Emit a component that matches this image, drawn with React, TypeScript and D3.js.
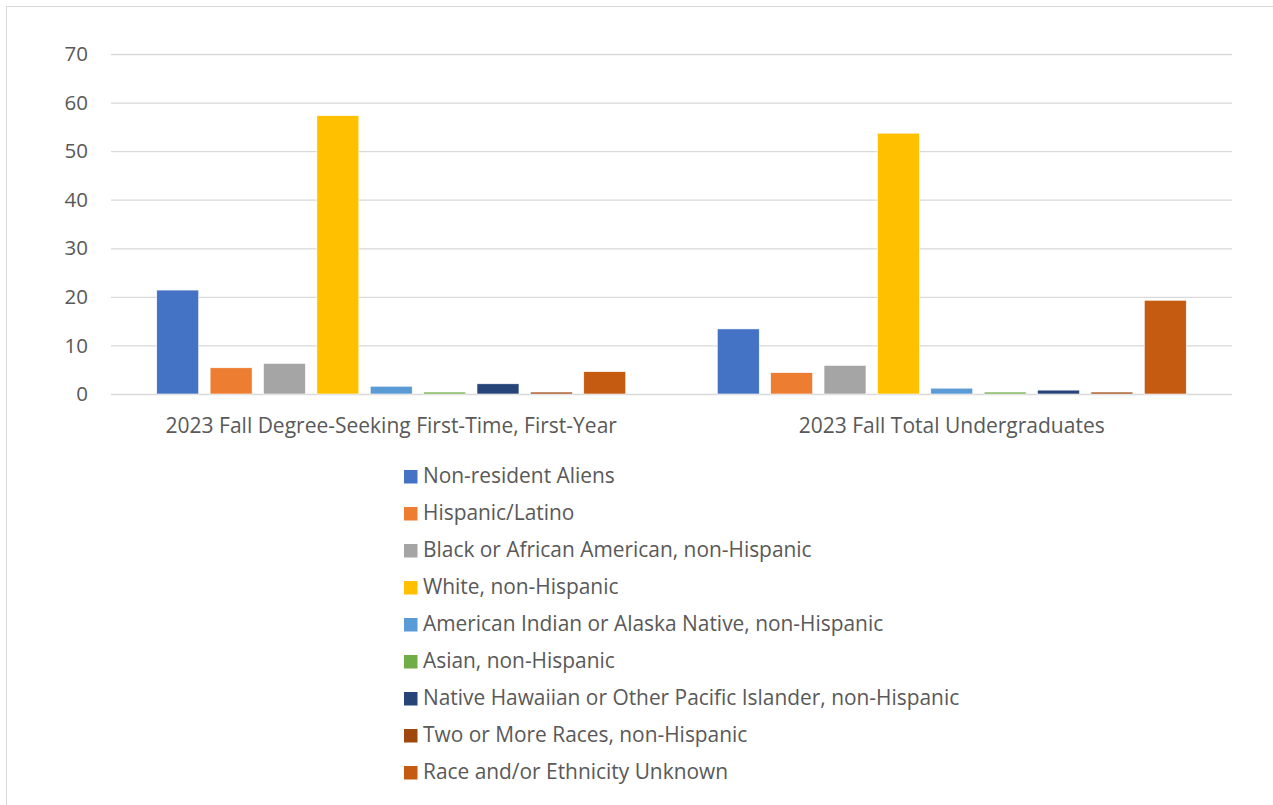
import React from "react";
import * as d3 from "d3";

const categories = [
  "2023 Fall Degree-Seeking First-Time, First-Year",
  "2023 Fall Total Undergraduates",
];
const seriesNames = [
  "Non-resident Aliens",
  "Hispanic/Latino",
  "Black or African American, non-Hispanic",
  "White, non-Hispanic",
  "American Indian or Alaska Native, non-Hispanic",
  "Asian, non-Hispanic",
  "Native Hawaiian or Other Pacific Islander, non-Hispanic",
  "Two or More Races, non-Hispanic",
  "Race and/or Ethnicity Unknown",
];
const firstYearValues = [21.4, 5.4, 6.3, 57.3, 1.6, 0.4, 2.1, 0.4, 4.6];
const totalUndergradValues = [13.4, 4.4, 5.9, 53.7, 1.2, 0.4, 0.8, 0.4, 19.3];
const seriesColors = [
  "#4472C4",
  "#ED7D31",
  "#A5A5A5",
  "#FFC000",
  "#5B9BD5",
  "#70AD47",
  "#264478",
  "#9E480E",
  "#C55A11",
];
const yTicks = [0, 10, 20, 30, 40, 50, 60, 70];

const W = 1273;
const H = 805;
const FONT = "'Open Sans', sans-serif";
const TEXT = "#595959";

export default function App() {
  const left = 111;
  const right = 1232;
  const top = 54;
  const bottom = 394;
  const values = [firstYearValues, totalUndergradValues];

  const y = d3.scaleLinear().domain([0, 70]).range([bottom, top]);
  const x0 = d3
    .scaleBand<string>()
    .domain(categories)
    .range([left, right])
    .paddingInner(0.1633)
    .paddingOuter(0.0816);
  const x1 = d3
    .scaleBand<number>()
    .domain(d3.range(seriesNames.length))
    .range([0, x0.bandwidth()])
    .paddingInner(0.2135)
    .paddingOuter(0);

  const legendX = 404;
  const legendY0 = 476;
  const legendStep = 37;

  return (
    <svg
      width={W}
      height={H}
      style={{ position: "absolute", left: 0, top: 0, background: "#fff" }}
      fontFamily={FONT}
    >
      <rect x={0} y={0} width={W} height={H} fill="#fff" />
      <rect
        x={6.5}
        y={6.5}
        width={W + 20}
        height={H + 20}
        fill="none"
        stroke="#d9d9d9"
        strokeWidth={1}
      />
      {yTicks.map((t) => (
        <g key={t}>
          <line
            x1={left}
            x2={right}
            y1={y(t) + 0.5}
            y2={y(t) + 0.5}
            stroke="#d9d9d9"
            strokeWidth={1.3}
          />
          <text
            x={88}
            y={y(t)}
            dy="0.35em"
            textAnchor="end"
            fontSize={20.5}
            fill={TEXT}
          >
            {t}
          </text>
        </g>
      ))}
      {categories.map((c, ci) => (
        <g key={c} transform={`translate(${x0(c)},0)`}>
          {values[ci].map((v, si) => (
            <rect
              key={si}
              x={x1(si)}
              y={y(v)}
              width={x1.bandwidth()}
              height={y(0) - y(v)}
              fill={seriesColors[si]}
              stroke="#fff"
              strokeWidth={0.6}
            />
          ))}
          <text
            x={x0.bandwidth() / 2}
            y={426}
            dy="0.35em"
            textAnchor="middle"
            fontSize={21}
            fill={TEXT}
          >
            {c}
          </text>
        </g>
      ))}
      {seriesNames.map((s, i) => (
        <g key={s} transform={`translate(${legendX},${legendY0 + i * legendStep})`}>
          <rect x={0} y={-6} width={13.5} height={13.5} fill={seriesColors[i]} />
          <text x={19} y={0} dy="0.35em" fontSize={20.9} fill={TEXT}>
            {s}
          </text>
        </g>
      ))}
    </svg>
  );
}
